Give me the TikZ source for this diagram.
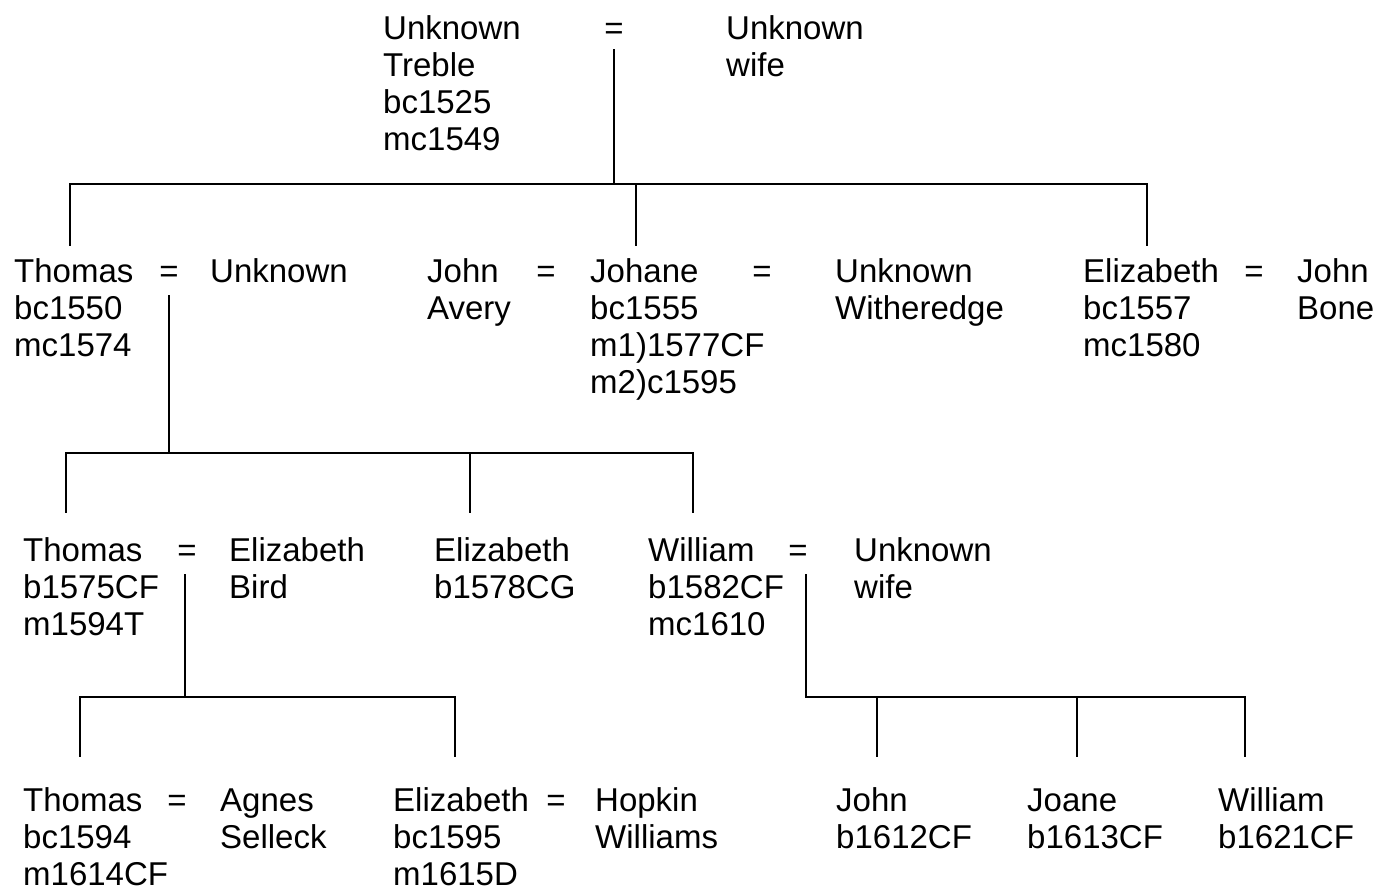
\documentclass[tikz,border=0pt]{standalone}
\usepackage{fontspec}
\setmainfont{Liberation Sans}
\newcommand{\stk}[1]{\vtop{\baselineskip=37pt\lineskiplimit=-50pt\lineskip=0pt\halign{##\hfil\cr#1\crcr}}}
\tikzset{
  person/.style={anchor=base west, inner sep=0pt, font=\fontsize{33}{37}\selectfont},
  eqsign/.style={anchor=base, inner sep=0pt, font=\fontsize{33}{37}\selectfont},
  link/.style={line width=2.8pt, line cap=rect}
}
\begin{document}
\begin{tikzpicture}[x=1pt,y=-1pt]
\useasboundingbox[fill=white] (0,0) rectangle (1378,889);
% Generation 1
\node[person] (ut) at (383,39) {\stk{Unknown\cr Treble\cr bc1525\cr mc1549}};
\node[eqsign] (e1) at (614,39) {=};
\node[person] (uw) at (726,39) {\stk{Unknown\cr wife}};
% Generation 2
\node[person] (th1) at (14,282) {\stk{Thomas\cr bc1550\cr mc1574}};
\node[eqsign] (e2) at (169,282) {=};
\node[person] (unk2) at (210,282) {\stk{Unknown}};
\node[person] (ja) at (427,282) {\stk{John\cr Avery}};
\node[eqsign] (e3) at (546,282) {=};
\node[person] (jo) at (590,282) {\stk{Johane\cr bc1555\cr m1)1577CF\cr m2)c1595}};
\node[eqsign] (e4) at (762,282) {=};
\node[person] (uwi) at (835,282) {\stk{Unknown\cr Witheredge}};
\node[person] (el1) at (1083,282) {\stk{Elizabeth\cr bc1557\cr mc1580}};
\node[eqsign] (e5) at (1254,282) {=};
\node[person] (jb) at (1297,282) {\stk{John\cr Bone}};
% Generation 3
\node[person] (th2) at (23,561) {\stk{Thomas\cr b1575CF\cr m1594T}};
\node[eqsign] (e6) at (187,561) {=};
\node[person] (eb) at (229,561) {\stk{Elizabeth\cr Bird}};
\node[person] (el2) at (434,561) {\stk{Elizabeth\cr b1578CG}};
\node[person] (wi1) at (648,561) {\stk{William\cr b1582CF\cr mc1610}};
\node[eqsign] (e7) at (798,561) {=};
\node[person] (uw2) at (854,561) {\stk{Unknown\cr wife}};
% Generation 4
\node[person] (th3) at (23,811) {\stk{Thomas\cr bc1594\cr m1614CF}};
\node[eqsign] (e8) at (177,811) {=};
\node[person] (as) at (220,811) {\stk{Agnes\cr Selleck}};
\node[person] (el3) at (393,811) {\stk{Elizabeth\cr bc1595\cr m1615D}};
\node[eqsign] (e9) at (556,811) {=};
\node[person] (hw) at (595,811) {\stk{Hopkin\cr Williams}};
\node[person] (jn) at (836,811) {\stk{John\cr b1612CF}};
\node[person] (jn2) at (1027,811) {\stk{Joane\cr b1613CF}};
\node[person] (wi2) at (1218,811) {\stk{William\cr b1621CF}};
% junction coordinates
\coordinate (a0) at (614,50);  \coordinate (a1) at (614,184);
\coordinate (aL) at (70,184);  \coordinate (aR) at (1147,184); \coordinate (aM) at (636,184);
\coordinate (b0) at (169,296); \coordinate (b1) at (169,453);
\coordinate (bL) at (66,453);  \coordinate (bM) at (470,453);  \coordinate (bR) at (693,453);
\coordinate (c0) at (185,575); \coordinate (c1) at (185,697);
\coordinate (cL) at (80,697);  \coordinate (cR) at (455,697);
\coordinate (d0) at (806,575); \coordinate (d1) at (806,697);
\coordinate (dA) at (877,697); \coordinate (dB) at (1077,697); \coordinate (dR) at (1245,697);
% connectors
\draw[link] (a0) -- (a1);
\draw[link] (aL) ++(0,61) -- (aL) -- (aR) -- ++(0,61);
\draw[link] (aM) -- ++(0,61);
\draw[link] (b0) -- (b1);
\draw[link] (bL) ++(0,59) -- (bL) -- (bR) -- ++(0,59);
\draw[link] (bM) -- ++(0,59);
\draw[link] (c0) -- (c1);
\draw[link] (cL) ++(0,59) -- (cL) -- (cR) -- ++(0,59);
\draw[link] (d0) -- (d1) -- (dR) -- ++(0,59);
\draw[link] (dA) -- ++(0,59);
\draw[link] (dB) -- ++(0,59);
\end{tikzpicture}
\end{document}
